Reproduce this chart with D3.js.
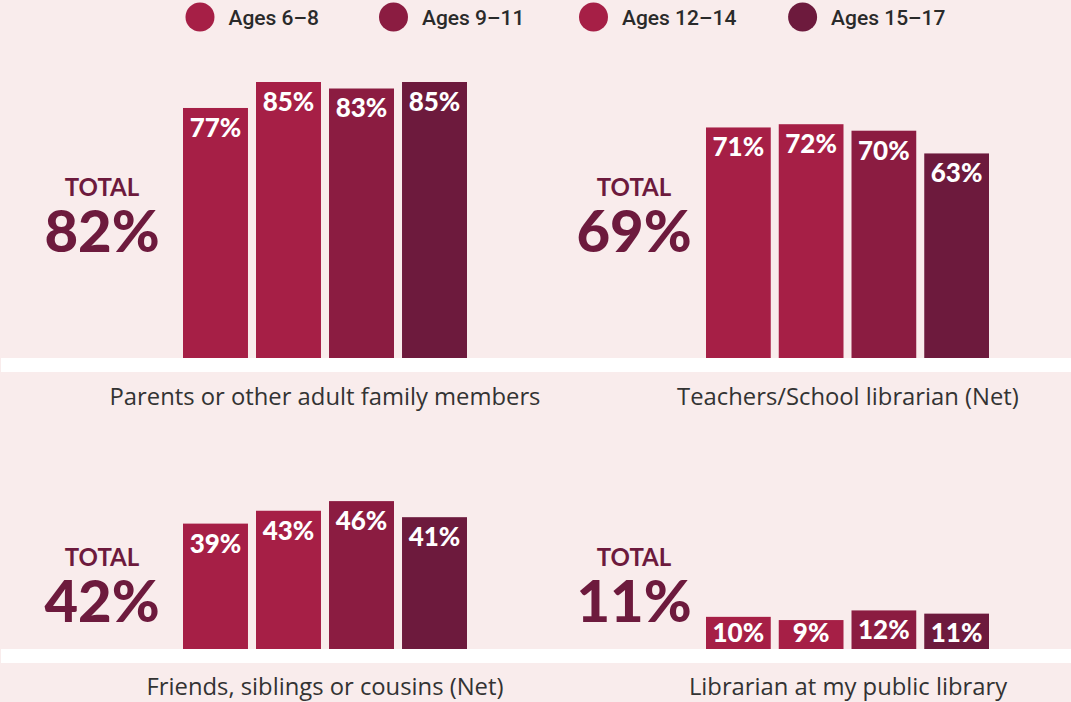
<!DOCTYPE html>
<html>
<head>
<meta charset="utf-8">
<script src="https://cdn.jsdelivr.net/npm/d3@7/dist/d3.min.js"></script>
<style>
  html, body { margin: 0; padding: 0; background: #F9ECEC; }
  svg { display: block; }
</style>
</head>
<body>
<svg id="chart" width="1071" height="702"></svg>
<script>
// Who kids turn to for book ideas, by age group
const categories = [
  "Parents or other adult family members",
  "Teachers/School librarian (Net)",
  "Friends, siblings or cousins (Net)",
  "Librarian at my public library"
];
const totals = [82, 69, 42, 11];
const ageGroups = ["Ages 6–8", "Ages 9–11", "Ages 12–14", "Ages 15–17"];
const ages6to8 = [77, 71, 39, 10];
const ages9to11 = [85, 72, 43, 9];
const ages12to14 = [83, 70, 46, 12];
const ages15to17 = [85, 63, 41, 11];

const seriesValues = [ages6to8, ages9to11, ages12to14, ages15to17];
const barColors = ["#A61F46", "#A61F46", "#8B1C41", "#6D1A3D"];
const legendColors = ["#A61F46", "#8B1C41", "#A61F46", "#6D1A3D"];
const totalColor = "#6D1A3D";

const svg = d3.select("#chart");
const W = 1071;

// panel layout: two columns, two rows
const cols = [
  { barLeft: 183, barRight: 467, totalX: 102, labelX: 325 },
  { barLeft: 706, barRight: 989, totalX: 634, labelX: 848 }
];
const rows = [
  { base: 358, fullHeight: 324.7, totalWordY: 196, totalNumY: 252, labelY: 405 },
  { base: 649, fullHeight: 321.5, totalWordY: 566, totalNumY: 622, labelY: 695 }
];

// white separator bands under each row of bars
svg.selectAll("rect.band").data(rows).join("rect")
  .attr("class", "band")
  .attr("x", 1).attr("width", W - 1)
  .attr("y", d => d.base).attr("height", 14)
  .attr("fill", "#ffffff");

categories.forEach((cat, i) => {
  const col = cols[i % 2];
  const row = rows[Math.floor(i / 2)];
  const g = svg.append("g");

  const x = d3.scaleBand()
    .domain(ageGroups)
    .range([col.barLeft, col.barRight])
    .paddingInner(0.11)
    .paddingOuter(0);
  const y = d3.scaleLinear()
    .domain([0, 100])
    .range([row.base, row.base - row.fullHeight]);

  const data = ageGroups.map((a, k) => ({ age: a, value: seriesValues[k][i], color: barColors[k] }));

  g.selectAll("rect.bar").data(data).join("rect")
    .attr("class", "bar")
    .attr("x", d => x(d.age))
    .attr("width", x.bandwidth())
    .attr("y", d => y(d.value))
    .attr("height", d => y(0) - y(d.value))
    .attr("fill", d => d.color);

  g.selectAll("text.val").data(data).join("text")
    .attr("class", "val")
    .attr("x", d => x(d.age) + x.bandwidth() / 2)
    .attr("y", d => Math.min(y(d.value) + 29, row.base - 7))
    .attr("text-anchor", "middle")
    .attr("fill", "#ffffff")
    .style("font-family", "Lato, sans-serif")
    .style("font-weight", 900)
    .style("font-size", "26px")
    .text(d => d.value + "%");

  // total callout: small caption over a large figure, one text block
  const total = g.append("text")
    .attr("text-anchor", "middle")
    .attr("fill", totalColor)
    .style("font-family", "Lato, sans-serif");
  total.append("tspan")
    .attr("x", col.totalX).attr("y", row.totalWordY)
    .style("font-weight", 700)
    .style("font-size", "24px")
    .text("TOTAL");
  total.append("tspan")
    .attr("x", col.totalX).attr("y", row.totalNumY)
    .style("font-weight", 900)
    .style("font-size", "58px")
    .text(totals[i] + "%");

  // category name
  g.append("text")
    .attr("x", col.labelX).attr("y", row.labelY)
    .attr("text-anchor", "middle")
    .attr("fill", "#333333")
    .style("font-family", "'Open Sans', sans-serif")
    .style("font-weight", 400)
    .style("font-size", "23.8px")
    .text(cat);
});

// legend
const legendX = [200, 393.5, 593.5, 802.6];
const legend = svg.append("g");
const items = legend.selectAll("g").data(ageGroups).join("g")
  .attr("transform", (d, k) => `translate(${legendX[k]},17)`);
items.append("circle")
  .attr("r", 14.5)
  .attr("fill", (d, k) => legendColors[k]);
items.append("text")
  .attr("x", 28.5).attr("y", 7.5)
  .attr("fill", "#2a2a2a")
  .style("font-family", "Roboto, sans-serif")
  .style("font-weight", 500)
  .style("font-size", "21px")
  .text(d => d);
</script>
</body>
</html>
